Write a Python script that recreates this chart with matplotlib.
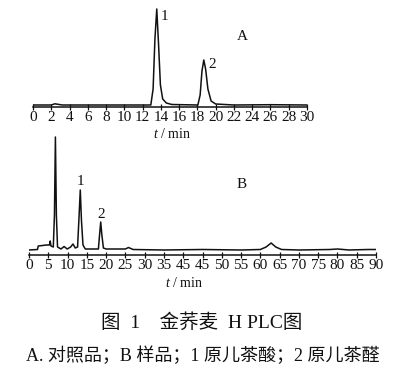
import matplotlib
matplotlib.use('agg')
from matplotlib import pyplot as plt

plt.rcParams['font.family'] = ['Liberation Serif', 'Noto Sans CJK SC']
plt.rcParams['mathtext.fontset'] = 'custom'
plt.rcParams['mathtext.it'] = 'Liberation Serif:italic'
plt.rcParams['mathtext.rm'] = 'Liberation Serif'

# chromatogram A (reference standards), 0-30 min
a_time = [0, 2.0, 2.4, 2.8, 3.2, 12.9, 13.15, 13.35, 13.55, 13.75, 13.95, 14.2, 14.6, 15.2,
          18.05, 18.3, 18.5, 18.7, 18.9, 19.15, 19.5, 20.0, 22, 26, 30]
a_signal = [2, 2, 3.2, 2.6, 2, 2, 18, 68, 98, 62, 22, 8, 4, 2.5,
            2, 12, 36, 47, 38, 18, 6, 3, 2, 2.3, 2]

# chromatogram B (sample), 0-90 min
b_time = [0, 2.2, 2.4, 3.5, 4.5, 5.3, 5.5, 5.7, 6.3, 6.6, 6.85, 7.1, 7.4, 8.3, 9.1, 9.9,
          10.8, 11.4, 12.0, 12.6, 13.0, 13.3, 13.6, 14.0, 14.6, 18.0, 18.3, 18.6, 18.9,
          19.3, 20, 25, 25.8, 27, 35, 45, 55, 60, 61.5, 62.8, 64, 65.5, 70, 78, 80, 83, 88, 90]
b_signal = [5, 5.5, 9, 9.5, 10, 10, 14, 9, 8, 40, 118, 40, 8, 6, 8.5, 6,
            8, 11, 7, 8, 40, 65, 35, 10, 6, 6, 20, 33, 20,
            7, 6, 6, 7.5, 5.5, 5, 5.5, 5, 5.5, 8, 12, 8, 5.5, 5, 5.5, 6, 5, 5.5, 5.5]

a_ticks = list(range(0, 31, 2))
b_ticks = list(range(0, 91, 5))
b_tick_labels = ['0', '5', '10', '15', '20', '25', '30', '35', '45', '45', '50', '55',
                 '60', '65', '70', '75', '80', '85', '90']

W, H = 404, 378
fig = plt.figure(figsize=(W / 100, H / 100), dpi=100)
ink = '#111111'


def px_axes(left, right, bottom, top):
    return fig.add_axes([left / W, 1 - bottom / H, (right - left) / W, (bottom - top) / H])


def style(ax):
    for s in ['top', 'right', 'left']:
        ax.spines[s].set_visible(False)
    ax.spines['bottom'].set_color(ink)
    ax.spines['bottom'].set_linewidth(1.1)
    ax.set_yticks([])
    ax.patch.set_alpha(0)
    ax.tick_params(axis='x', direction='inout', length=4, width=0.9, color=ink,
                   labelsize=11, pad=1, labelcolor=ink)


def ftext(x, y, s, size, **kw):
    fig.text(x / W, 1 - y / H, s, fontsize=size, color=ink, ha='center', va='center', **kw)


# panel A
ax1 = px_axes(33, 307, 107, 5)
ax1.plot(a_time, a_signal, color=ink, lw=1.1)
ax1.set_xlim(0, 30)
ax1.set_ylim(0, 102)
ax1.set_xticks(a_ticks)
style(ax1)

# panel B
ax2 = px_axes(29, 376, 255, 135)
ax2.plot(b_time, b_signal, color=ink, lw=1.1)
ax2.set_xlim(0, 90)
ax2.set_ylim(0, 120)
ax2.set_xticks(b_ticks)
ax2.set_xticklabels(b_tick_labels)
style(ax2)

# peak labels
ftext(164, 17, '1', 11)
ftext(212, 64, '2', 11)
ftext(242, 36, 'A', 11)
ftext(80, 182, '1', 11)
ftext(101, 214, '2', 11)
ftext(242, 184, 'B', 11)

ftext(172, 134, r'$t$ / min', 10)
ftext(184, 283, r'$t$ / min', 10)

# caption
ftext(202, 323, '图  1    金荞麦  H PLC图', 14)
ftext(203, 356, 'A. 对照品；B 样品；1 原儿茶酸；2 原儿茶醛', 13)

fig.savefig('out.png', dpi=100)
